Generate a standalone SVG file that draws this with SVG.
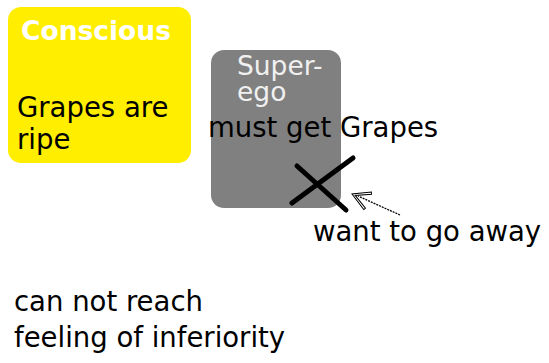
<svg xmlns="http://www.w3.org/2000/svg" width="549" height="363" viewBox="0 0 549 363">
<style>
text{font-family:"DejaVu Sans",Verdana,sans-serif;font-size:27.5px;fill:#000}
.w{fill:#fff;font-weight:bold;font-size:26.5px}
.lg{fill:#f0f0f0;font-size:26.5px}
.x{stroke:#000;stroke-width:5;stroke-linecap:round;fill:none}
</style>
<defs>
<marker id="ah" markerWidth="26" markerHeight="26" refX="20" refY="11" orient="auto" markerUnits="userSpaceOnUse">
<path d="M20,11 L3,1.5 L2,3.5 L16.5,11 L2,18.5 L3,20.5 Z" fill="#fff" stroke="#000" stroke-width="1"/>
</marker>
</defs>
<rect width="549" height="363" fill="#fff"/>
<g id="conscious">
<rect x="8" y="7" width="183" height="156" rx="13" fill="#ffee00"/>
<text x="21" y="40" class="w">Conscious</text>
<text x="17" y="117">Grapes are</text>
<text x="17" y="149">ripe</text>
</g>
<g id="superego">
<rect x="211" y="50" width="130" height="158" rx="13" fill="#808080"/>
<text x="237" y="75" class="lg">Super-</text>
<text x="237" y="101" class="lg">ego</text>
</g>
<g id="must"><text x="208" y="137">must get Grapes</text></g>
<g id="cross">
<path class="x" d="M292,203 L353,158 M297,166 L346,210"/>
</g>
<g id="connectors">
<path d="M400,215 L358,196" stroke="#000" stroke-width="1.3" stroke-dasharray="2,1" fill="none"/>
<path d="M400,215 L352,194" stroke="none" fill="none" marker-end="url(#ah)"/>
</g>
<g id="away"><text x="313" y="241">want to go away</text></g>
<g id="reach">
<text x="14" y="311">can not reach</text>
<text x="14" y="347">feeling of inferiority</text>
</g>
</svg>
